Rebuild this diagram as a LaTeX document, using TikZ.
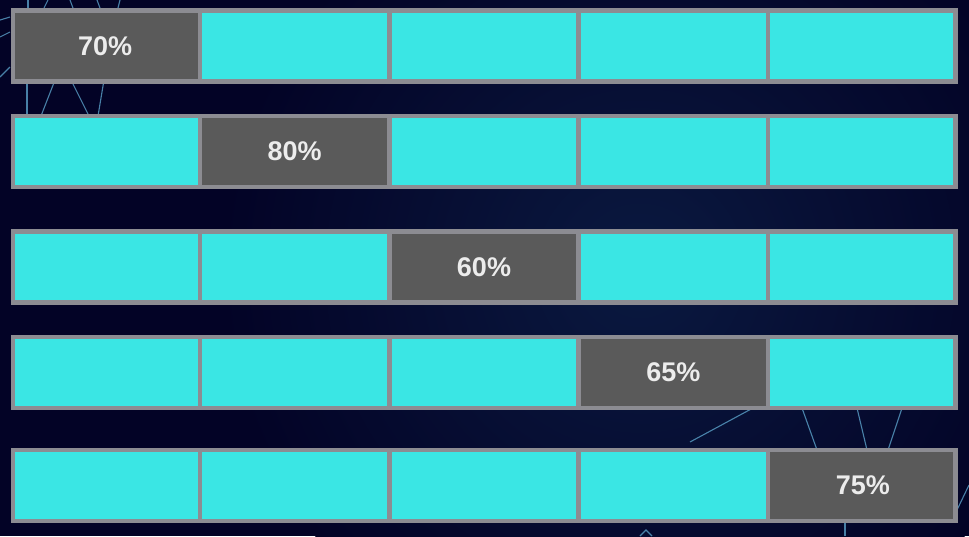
\documentclass[tikz,border=0pt]{standalone}
\usepackage{fontspec}
\setmainfont{Liberation Sans}
\usepackage{xcolor}
\usepackage{tikz}
\usetikzlibrary{
  shapes.multipart,
  positioning
}
\definecolor{bgnavy}{RGB}{3,3,38}
\definecolor{bgglow}{RGB}{10,25,64}
\definecolor{cellcyan}{RGB}{58,230,228}
\definecolor{celldark}{RGB}{90,90,90}
\definecolor{framegray}{RGB}{140,140,146}
\definecolor{webblue}{RGB}{90,160,200}
\definecolor{labelwhite}{RGB}{236,236,236}

\begin{document}
\begin{tikzpicture}[
  x=1pt, y=-1pt,
  rowbar/.style={
    rectangle split, rectangle split horizontal, rectangle split parts=5,
    draw=framegray, line width=4.5pt, inner xsep=0pt, inner ysep=0pt,
    text width=184.9pt, align=center, text height=45pt, text depth=26pt,
    font=\fontsize{27}{32}\selectfont\bfseries, text=labelwhite
  },
  web/.style={webblue, line width=1.1pt, opacity=0.8}
]
  % background
  \useasboundingbox (0,0) rectangle (969,536);
  \fill[bgnavy] (0,0) rectangle (969,536);
  \begin{scope}
    \clip (0,0) rectangle (969,536);
    \shade[inner color=bgglow, outer color=bgnavy] (640,270) circle[radius=420pt];
  \end{scope}

  % faint web lines
  \draw[web] (28,0) -- (28,8);
  \draw[web] (48,0) -- (44,8);
  \draw[web] (70,0) -- (73,8);
  \draw[web] (97,0) -- (100,8);
  \draw[web] (120,0) -- (118,8);
  \draw[web] (0,20) -- (10,17);
  \draw[web] (0,37) -- (10,32);
  \draw[web] (0,77) -- (10,67);
  \draw[web] (27,80) -- (27,116);
  \draw[web] (55,80) -- (41,116);
  \draw[web] (71,80) -- (89,116);
  \draw[web] (104,80) -- (98,116);
  \draw[web] (753,408) -- (690,442);
  \draw[web] (802,408) -- (817,450);
  \draw[web] (857,408) -- (867,450);
  \draw[web] (902,408) -- (888,450);
  \draw[web] (845,520) -- (845,536);
  \draw[web] (640,536) -- (646,530) -- (652,536);
  \draw[web] (956,512) -- (969,485);

  % first row
  \node[rowbar, rectangle split part fill={celldark,cellcyan,cellcyan,cellcyan,cellcyan}]
    (rowa) at (484,45.75)
    {70\% \nodepart{two} \nodepart{three} \nodepart{four} \nodepart{five}};

  % second row
  \node[rowbar, rectangle split part fill={cellcyan,celldark,cellcyan,cellcyan,cellcyan},
    below=30pt of rowa] (rowb)
    {\nodepart{two} 80\% \nodepart{three} \nodepart{four} \nodepart{five}};

  % third row
  \node[rowbar, rectangle split part fill={cellcyan,cellcyan,celldark,cellcyan,cellcyan},
    below=40pt of rowb] (rowc)
    {\nodepart{two} \nodepart{three} 60\% \nodepart{four} \nodepart{five}};

  % fourth row
  \node[rowbar, rectangle split part fill={cellcyan,cellcyan,cellcyan,celldark,cellcyan},
    below=30pt of rowc] (rowd)
    {\nodepart{two} \nodepart{three} \nodepart{four} 65\% \nodepart{five}};

  % fifth row
  \node[rowbar, rectangle split part fill={cellcyan,cellcyan,cellcyan,cellcyan,celldark},
    below=37.5pt of rowd] (rowe)
    {\nodepart{two} \nodepart{three} \nodepart{four} \nodepart{five} 75\%};
\end{tikzpicture}
\end{document}
